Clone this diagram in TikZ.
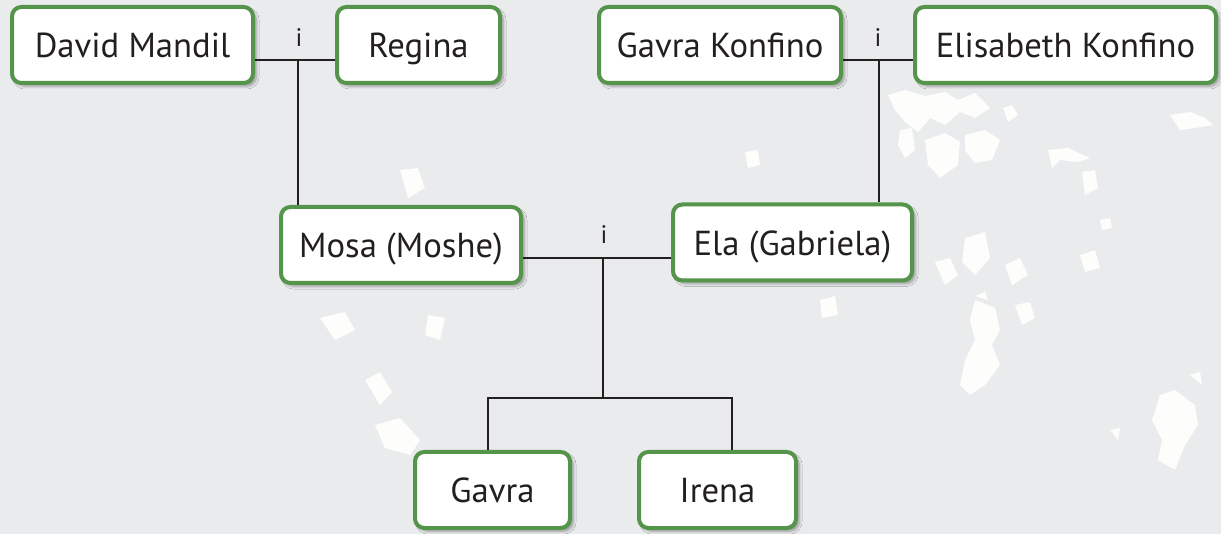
\documentclass[tikz,border=0pt]{standalone}
\usepackage{fontspec}
\setmainfont{PT Sans}
\usetikzlibrary{shadows.blur}
\definecolor{bg}{HTML}{EAEBED}
\definecolor{grn}{HTML}{55944B}
\definecolor{ink}{HTML}{231F20}
\definecolor{spot}{HTML}{FDFDFB}
\tikzset{
  person/.style={draw=grn, line width=3pt, fill=white, rounded corners=7pt,
    minimum height=57pt, inner sep=0pt, text=ink, font=\fontsize{26}{30}\selectfont,
    text height=24pt, text depth=4.5pt,
    blur shadow={shadow xshift=2.5pt, shadow yshift=-2.5pt, shadow blur steps=6, shadow opacity=35}},
  link/.style={draw=ink, line width=1.5pt},
  andlbl/.style={text=ink, font=\fontsize{19}{22}\selectfont, inner sep=0pt, anchor=base},
  blotch/.style={fill=spot, draw=none}
}
\begin{document}
\begin{tikzpicture}[x=0.75pt,y=-0.75pt]
\useasboundingbox (0,0) rectangle (1221,534);
\fill[bg] (0,0) rectangle (1221,534);
% background blotches (map texture)
\fill[blotch] (888,95) -- (905,90) -- (925,96) -- (945,92) -- (958,100) -- (975,93) -- (990,108) -- (975,118) -- (960,112) -- (945,125) -- (930,118) -- (918,132) -- (905,122) -- (895,110) -- cycle;
\fill[blotch] (900,130) -- (912,128) -- (915,150) -- (905,158) -- (898,145) -- cycle;
\fill[blotch] (925,140) -- (945,133) -- (960,142) -- (958,165) -- (940,178) -- (928,165) -- cycle;
\fill[blotch] (965,135) -- (985,130) -- (1000,140) -- (992,160) -- (975,163) -- (965,150) -- cycle;
\fill[blotch] (1003,108) -- (1012,105) -- (1018,115) -- (1008,122) -- cycle;
\fill[blotch] (1048,150) -- (1068,148) -- (1090,158) -- (1078,162) -- (1060,160) -- (1052,168) -- cycle;
\fill[blotch] (1082,172) -- (1095,170) -- (1098,188) -- (1085,195) -- cycle;
\fill[blotch] (1170,115) -- (1190,112) -- (1205,118) -- (1213,125) -- (1195,128) -- (1180,130) -- cycle;
\fill[blotch] (1100,220) -- (1110,218) -- (1112,228) -- (1102,230) -- cycle;
\fill[blotch] (965,238) -- (985,232) -- (990,258) -- (975,275) -- (962,262) -- cycle;
\fill[blotch] (935,262) -- (950,258) -- (958,275) -- (945,285) -- cycle;
\fill[blotch] (1005,265) -- (1020,258) -- (1028,275) -- (1012,285) -- cycle;
\fill[blotch] (1015,305) -- (1030,302) -- (1035,318) -- (1022,325) -- cycle;
\fill[blotch] (975,300) -- (995,308) -- (1000,330) -- (992,345) -- (1000,365) -- (985,385) -- (970,395) -- (960,385) -- (965,360) -- (975,340) -- (970,320) -- cycle;
\fill[blotch] (975,296) -- (985,292) -- (988,300) -- cycle;
\fill[blotch] (1160,395) -- (1175,390) -- (1195,405) -- (1198,425) -- (1185,445) -- (1175,470) -- (1158,460) -- (1162,440) -- (1152,420) -- cycle;
\fill[blotch] (1190,375) -- (1200,372) -- (1202,385) -- cycle;
\fill[blotch] (1110,430) -- (1120,428) -- (1118,440) -- cycle;
\fill[blotch] (365,380) -- (380,372) -- (392,392) -- (380,405) -- cycle;
\fill[blotch] (375,425) -- (400,418) -- (420,440) -- (410,455) -- (385,448) -- cycle;
\fill[blotch] (320,318) -- (345,312) -- (355,330) -- (335,340) -- cycle;
\fill[blotch] (400,170) -- (418,168) -- (425,188) -- (408,198) -- cycle;
\fill[blotch] (428,315) -- (445,318) -- (440,340) -- (425,335) -- cycle;
\fill[blotch] (745,152) -- (758,150) -- (760,165) -- (748,168) -- cycle;
\fill[blotch] (820,300) -- (835,296) -- (838,315) -- (822,318) -- cycle;
\fill[blotch] (1080,255) -- (1095,250) -- (1100,268) -- (1085,272) -- cycle;
% people
\node[person, minimum width=180.75pt] (dm) at (132.5,45) {David Mandil};
\node[person, minimum width=122.25pt] (rg) at (418.5,45) {Regina};
\node[person, minimum width=181.5pt] (gk) at (720,45) {Gavra Konfino};
\node[person, minimum width=225.75pt] (ek) at (1065.5,45) {Elisabeth Konfino};
\node[person, minimum width=180pt] (mo) at (401,245) {Mosa (Moshe)};
\node[person, minimum width=179.25pt] (el) at (792.5,242.5) {Ela (Gabriela)};
\node[person, minimum width=116.25pt] (gv) at (492.5,490) {Gavra};
\node[person, minimum width=117.75pt] (ir) at (717.5,490) {Irena};
% junction points
\coordinate (j1) at (298,60);
\coordinate (j2) at (879,60);
\coordinate (j3) at (603,258);
\coordinate (k3) at (603,398);
\coordinate (kl) at (488,398);
\coordinate (kr) at (732,398);
% connectors
\draw[link] (dm.east |- j1) -- (rg.west |- j1);
\draw[link] (j1) -- (mo.north -| j1);
\draw[link] (gk.east |- j2) -- (ek.west |- j2);
\draw[link] (j2) -- (el.north -| j2);
\draw[link] (mo.east |- j3) -- (el.west |- j3);
\draw[link] (j3) -- (k3);
\draw[link] (gv.north -| kl) -- (kl) -- (kr) -- (ir.north -| kr);
% labels
\node[andlbl] (i1) at (299,47) {i};
\node[andlbl] (i2) at (878,47) {i};
\node[andlbl] (i3) at (604,244) {i};
\end{tikzpicture}
\end{document}
